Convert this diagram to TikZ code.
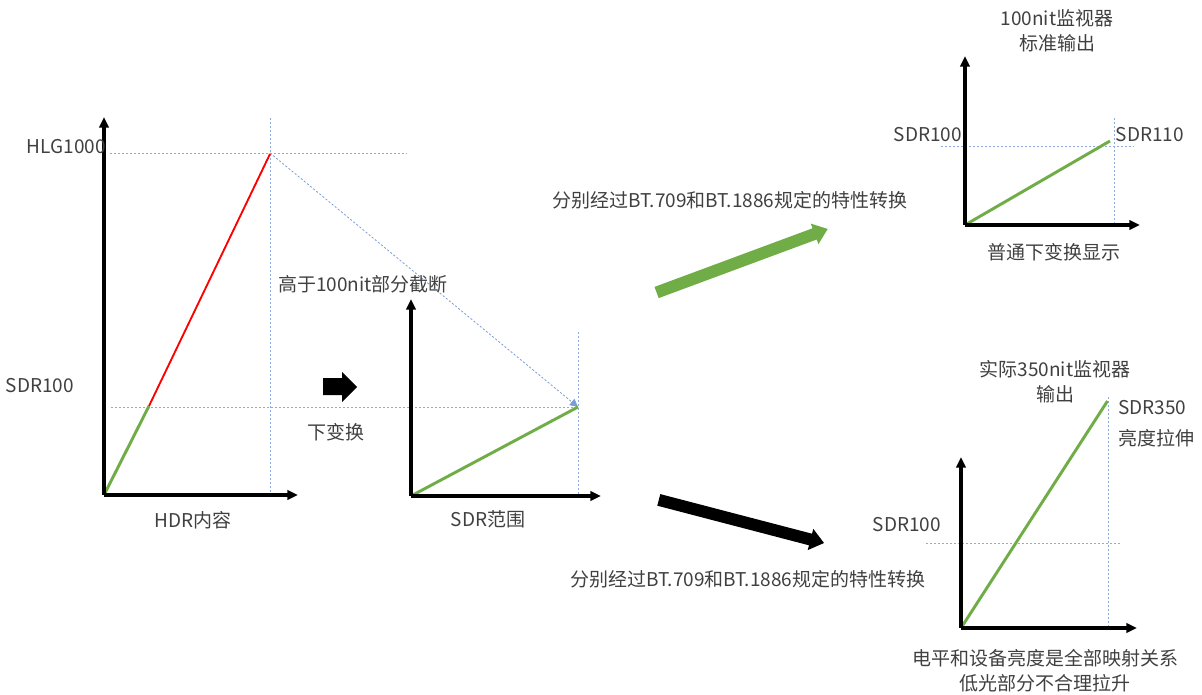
\documentclass[tikz,border=0pt]{standalone}
\usepackage{fontspec}
\setmainfont{Noto Sans CJK SC}
\usetikzlibrary{arrows.meta}
\definecolor{txt}{RGB}{64,64,64}
\definecolor{grn}{RGB}{112,173,71}
\definecolor{guide}{RGB}{143,170,220}
\definecolor{blu}{RGB}{68,114,196}
\begin{document}
\begin{tikzpicture}[x=0.75pt,y=-0.75pt,
  lbl/.style={font=\fontsize{14.25}{19}\selectfont, text=txt, inner sep=0pt, align=center},
  axis/.style={line width=2.3pt, -{Triangle[length=8pt,width=7pt]}},
  guideline/.style={draw=guide, line width=0.6pt, dash pattern=on 1.6pt off 1.4pt},
  curveg/.style={draw=grn, line width=2.2pt},
  curver/.style={draw=red, line width=1.4pt},
  block/.style={fill=black, draw=none},
  gblock/.style={fill=grn, draw=none}]
\useasboundingbox (0,0) rectangle (1202,695);

% ---------- chart 1 : HDR ----------
\coordinate (o1) at (104,495);
\coordinate (y1) at (104,117);
\coordinate (x1) at (298,495);
\coordinate (k1) at (149,406);
\coordinate (p1) at (270,154);
\coordinate (v1top) at (270,118);
\coordinate (v1bot) at (270,495);
\coordinate (h1a) at (110,153);
\coordinate (h1b) at (407,153);
\coordinate (s1a) at (111,407);
\coordinate (s2end) at (578,407);
\draw[guideline] (v1top) -- (v1bot);
\draw[guideline] (h1a) -- (h1b);
\draw[guideline] (s1a) -- (s2end);
\draw[curver] (k1) -- (p1);
\draw[curveg] (o1) -- (k1);
\draw[axis] (o1) -- (y1);
\draw[axis] (o1) -- (x1);
\node[lbl, anchor=east] (hlg) at (106,147) {HLG1000};
\node[lbl] (sdr1) at (40,386) {SDR100};
\node[lbl] (hdr) at (193,520) {HDR内容};

% diagonal projection
\draw[guideline, -{Triangle[length=6pt,width=6pt]}, blu!70] (270,153) -- (s2end);
\node[lbl, anchor=west] (cut) at (278,284) {高于100nit部分截断};

% small block arrow
\path[block] (323,378) -- (342,378) -- (342,372) -- (357,387) -- (342,402) -- (342,395) -- (323,395) -- cycle;
\node[lbl] (down) at (336,432) {下变换};

% ---------- chart 2 : SDR range ----------
\coordinate (o2) at (411,496);
\coordinate (y2) at (411,299);
\coordinate (x2) at (601,496);
\coordinate (v2top) at (578,332);
\coordinate (v2bot) at (578,496);
\draw[guideline] (v2top) -- (v2bot);
\draw[curveg] (o2) -- (s2end);
\draw[axis] (o2) -- (y2);
\draw[axis] (o2) -- (x2);
\node[lbl] (sdrr) at (488,519) {SDR范围};

% ---------- green block arrow ----------
\path[gblock] (654.5,286.9) -- (812.5,228.3) -- (810.8,223.6) -- (827.7,229) -- (818.4,244.2) -- (816.7,239.5) -- (658.7,298.1) -- cycle;
\node[lbl] (conv1) at (730,200) {分别经过BT.709和BT.1886规定的特性转换};

% ---------- chart 3 : 100nit monitor ----------
\node[lbl] (mon1) at (1057,31) {100nit监视器\\标准输出};
\coordinate (o3) at (965,225);
\coordinate (y3) at (965,56);
\coordinate (x3) at (1140,225);
\coordinate (p3) at (1110,141);
\coordinate (h3a) at (941,146);
\coordinate (h3b) at (1134,146);
\coordinate (v3top) at (1114,118);
\coordinate (v3bot) at (1114,225);
\draw[guideline] (h3a) -- (h3b);
\draw[guideline] (v3top) -- (v3bot);
\draw[curveg] (o3) -- (p3);
\draw[axis] (o3) -- (y3);
\draw[axis] (o3) -- (x3);
\node[lbl] (sdr3) at (928,135) {SDR100};
\node[lbl] (sdr110) at (1150,135) {SDR110};
\node[lbl] (norm) at (1054,252) {普通下变换显示};

% ---------- black block arrow ----------
\path[block] (660.3,494.1) -- (812.0,533.7) -- (813.3,528.9) -- (824,543) -- (807.7,550.1) -- (809.0,545.3) -- (657.3,505.7) -- cycle;
\node[lbl] (conv2) at (748,579) {分别经过BT.709和BT.1886规定的特性转换};

% ---------- chart 4 : 350nit monitor ----------
\node[lbl] (mon2) at (1055,382) {实际350nit监视器\\输出};
\coordinate (o4) at (961,628);
\coordinate (y4) at (961,457);
\coordinate (x4) at (1137,628);
\coordinate (p4) at (1107.5,401);
\coordinate (h4a) at (926,543);
\coordinate (h4b) at (1121,543);
\coordinate (v4top) at (1108.5,397);
\coordinate (v4bot) at (1108.5,628);
\draw[guideline] (h4a) -- (h4b);
\draw[guideline] (v4top) -- (v4bot);
\draw[curveg] (o4) -- (p4);
\draw[axis] (o4) -- (y4);
\draw[axis] (o4) -- (x4);
\node[lbl] (sdr4) at (907,525) {SDR100};
\node[lbl, anchor=west] (sdr350) at (1118,408) {SDR350};
\node[lbl, anchor=west] (stretch) at (1118,438) {亮度拉伸};
\node[lbl] (note) at (1045,671) {电平和设备亮度是全部映射关系\\低光部分不合理拉升};
\end{tikzpicture}
\end{document}
